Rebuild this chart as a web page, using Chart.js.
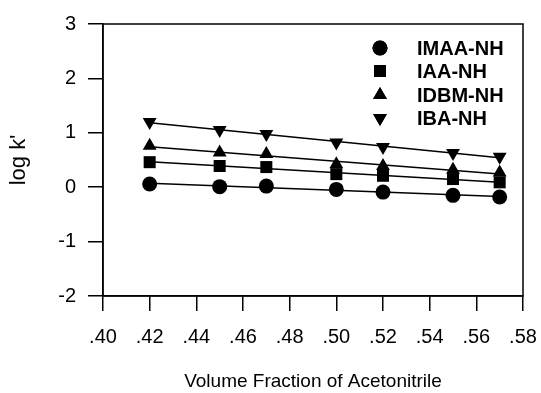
<!DOCTYPE html>
<html>
<head>
<meta charset="utf-8">
<script src="https://cdn.jsdelivr.net/npm/chart.js@4/dist/chart.umd.min.js"></script>
<style>
  html, body { margin: 0; padding: 0; background: #fff; }
  #wrap { width: 541px; height: 393px; }
</style>
</head>
<body>
<div id="wrap"><canvas id="chart" width="541" height="393"></canvas></div>
<script>
// Data
const fraction = [0.42, 0.45, 0.47, 0.50, 0.52, 0.55, 0.57];
const imaa = [0.06, 0.01, 0.02, -0.04, -0.09, -0.15, -0.18];
const iaa = [0.46, 0.39, 0.37, 0.24, 0.21, 0.15, 0.09];
const idbm = [0.76, 0.64, 0.61, 0.42, 0.39, 0.32, 0.27];
const iba = [1.20, 1.05, 0.98, 0.82, 0.74, 0.63, 0.56];
const xTicks = [0.40, 0.42, 0.44, 0.46, 0.48, 0.50, 0.52, 0.54, 0.56, 0.58];
const yTicks = [-2, -1, 0, 1, 2, 3];

const FONT = 'Arial, "Liberation Sans", sans-serif';

// least squares line through a series, drawn from first to last x
function fitLine(xs, ys) {
    const n = xs.length;
    const mx = xs.reduce((a, b) => a + b, 0) / n;
    const my = ys.reduce((a, b) => a + b, 0) / n;
    let sxy = 0, sxx = 0;
    xs.forEach((x, i) => { sxy += (x - mx) * (ys[i] - my); sxx += (x - mx) * (x - mx); });
    const b = sxy / sxx, a = my - b * mx;
    return [xs[0], xs[n - 1]].map(x => ({ x, y: a + b * x }));
}

const series = [
    { label: 'IMAA-NH', data: imaa, style: 'circle', radius: 7.5, rot: 0 },
    { label: 'IAA-NH', data: iaa, style: 'rect', radius: 8.5, rot: 0 },
    { label: 'IDBM-NH', data: idbm, style: 'triangle', radius: 8, rot: 0 },
    { label: 'IBA-NH', data: iba, style: 'triangle', radius: 8, rot: 180 }
];

const datasets = [];
series.forEach(s => {
    datasets.push({
        label: s.label + ' fit', data: fitLine(fraction, s.data), showLine: true,
        borderColor: '#000', borderWidth: 1.5, pointRadius: 0, order: 2
    });
});
series.forEach(s => {
    datasets.push({
        label: s.label, data: fraction.map((x, i) => ({ x, y: s.data[i] })), showLine: false,
        pointStyle: s.style, pointRadius: s.radius, pointRotation: s.rot,
        backgroundColor: '#000', borderColor: '#000', borderWidth: 0, order: 1
    });
});

// box round the plot + legend inside the plot
const frameAndLegend = {
    id: 'frameAndLegend',
    afterDraw(chart) {
        const { ctx, chartArea: ca } = chart;
        ctx.save();
        ctx.strokeStyle = '#000';
        ctx.lineWidth = 1.5;
        ctx.strokeRect(ca.left, ca.top, ca.right - ca.left, ca.bottom - ca.top);
        const rows = [48, 71, 95, 118];
        ctx.font = 'bold 20px ' + FONT;
        ctx.textBaseline = 'middle';
        ctx.fillStyle = '#000';
        series.forEach((s, i) => {
            Chart.helpers.drawPoint(ctx, { pointStyle: s.style, radius: s.radius, rotation: s.rot, borderWidth: 0 }, 380, rows[i]);
            ctx.fillStyle = '#000';
            ctx.fill();
            ctx.fillText(s.label, 417, rows[i] + 1);
        });
        ctx.restore();
    }
};

new Chart(document.getElementById('chart'), {
    type: 'scatter',
    data: { datasets },
    options: {
        responsive: false,
        animation: false,
        events: [],
        layout: { padding: { left: 0, top: 19, right: 18, bottom: 0 } },
        plugins: { legend: { display: false }, tooltip: { enabled: false } },
        scales: {
            x: {
                type: 'linear', min: 0.40, max: 0.58,
                afterFit: s => { s.height = 97; s.paddingRight = 0; },
                afterBuildTicks: s => { s.ticks = xTicks.map(v => ({ value: v })); },
                ticks: {
                    color: '#000', font: { family: FONT, size: 20 }, padding: 14, maxRotation: 0,
                    callback: v => v.toFixed(2).replace(/^0/, '')
                },
                grid: { drawOnChartArea: false, drawTicks: true, tickLength: 15, color: '#000', lineWidth: 1.5 },
                border: { display: true, color: '#000', width: 1.5 },
                title: { display: true, text: 'Volume Fraction of Acetonitrile', color: '#000', font: { family: FONT, size: 19 }, padding: { top: 0, bottom: 0 } }
            },
            y: {
                type: 'linear', min: -2, max: 3,
                afterFit: s => { s.width = 103; },
                afterBuildTicks: s => { s.ticks = yTicks.map(v => ({ value: v })); },
                ticks: { color: '#000', font: { family: FONT, size: 20 }, padding: 12 },
                grid: { drawOnChartArea: false, drawTicks: true, tickLength: 15, color: '#000', lineWidth: 1.5 },
                border: { display: true, color: '#000', width: 1.5 },
                title: { display: true, text: "log k'", color: '#000', font: { family: FONT, size: 22 }, padding: { top: 6, bottom: 6 } }
            }
        }
    },
    plugins: [frameAndLegend]
});
</script>
</body>
</html>
